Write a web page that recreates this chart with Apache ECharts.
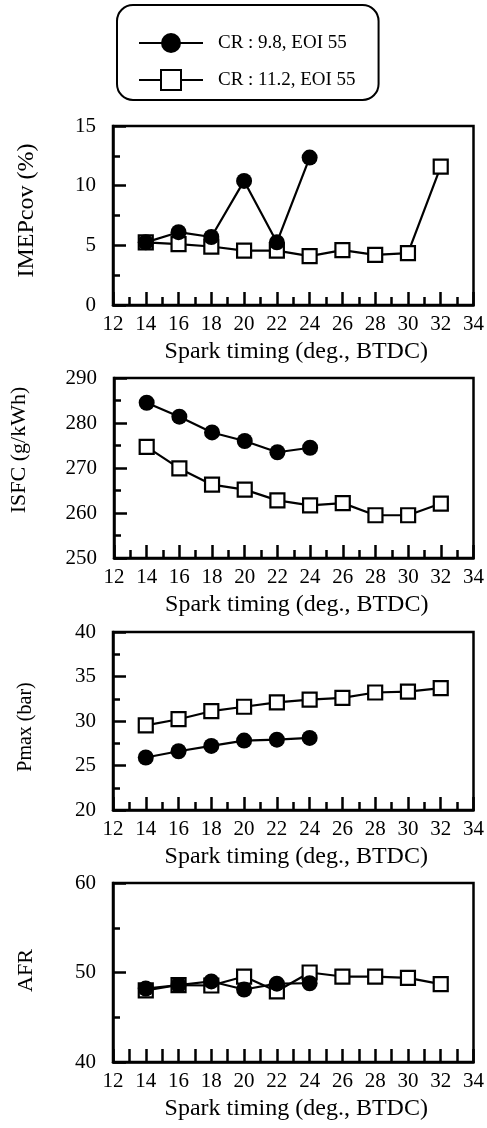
<!DOCTYPE html>
<html><head><meta charset="utf-8">
<script src="https://cdn.jsdelivr.net/npm/echarts@6/dist/echarts.min.js"></script>
<style>html,body{margin:0;padding:0;background:#fff}#c{width:487px;height:1128px}</style>
</head><body><div id="c"></div>
<script>
const seriesNames = ['CR : 9.8, EOI 55', 'CR : 11.2, EOI 55'];
const sparkTiming98 = [14, 16, 18, 20, 22, 24];
const sparkTiming112 = [14, 16, 18, 20, 22, 24, 26, 28, 30, 32];
const imepCov98 = [5.25, 6.1, 5.7, 10.4, 5.25, 12.35];
const imepCov112 = [5.25, 5.1, 4.9, 4.55, 4.55, 4.1, 4.6, 4.2, 4.35, 11.6];
const isfc98 = [284.5, 281.4, 277.9, 276.0, 273.5, 274.5];
const isfc112 = [274.7, 269.9, 266.3, 265.2, 262.8, 261.7, 262.2, 259.5, 259.5, 262.1];
const pmax98 = [25.9, 26.6, 27.2, 27.8, 27.9, 28.1];
const pmax112 = [29.5, 30.2, 31.1, 31.6, 32.1, 32.4, 32.6, 33.2, 33.3, 33.7];
const afr98 = [48.2, 48.6, 49.0, 48.1, 48.75, 48.8];
const afr112 = [48.0, 48.6, 48.55, 49.55, 47.9, 50.0, 49.55, 49.55, 49.4, 48.7];
const xAxisRange = [12, 34, 2];
const yTitles = ['IMEPcov (%)', 'ISFC (g/kWh)', 'Pmax (bar)', 'AFR'];
const yRanges = [[0, 15, 5], [250, 290, 10], [20, 40, 5], [40, 60, 10]];
const xTitle = 'Spark timing (deg., BTDC)';

const FONT = 'Liberation Serif';
const panels = [
  {top: 126, height: 179, yGap: 74, yFont: 24, yPad: [0, 0, 0, 10], minorX: 8, d98: imepCov98, d112: imepCov112},
  {top: 378, height: 180, yGap: 84, yFont: 22, yPad: [0, 0, 0, 36], minorX: 8, d98: isfc98, d112: isfc112},
  {top: 632, height: 178, yGap: 77, yFont: 20, yPad: [0, 12, 0, 0], minorX: 8, d98: pmax98, d112: pmax112},
  {top: 883, height: 179, yGap: 76, yFont: 22, yPad: [0, 0, 0, 4], minorX: 13, d98: afr98, d112: afr112}
];

const grid = [], xAxis = [], yAxis = [], series = [];
panels.forEach((p, i) => {
  grid.push({left: 113, width: 365, top: p.top, height: p.height, show: true,
    borderColor: '#000', borderWidth: 2.5, backgroundColor: 'transparent'});
  xAxis.push({
    type: 'value', gridIndex: i, min: xAxisRange[0], max: xAxisRange[1], interval: xAxisRange[2],
    axisLine: {lineStyle: {color: '#000', width: 2.5}},
    axisTick: {inside: true, length: 13, lineStyle: {color: '#000', width: 2.5}},
    minorTick: {show: true, splitNumber: 2, length: p.minorX, lineStyle: {color: '#000', width: 2.5}},
    splitLine: {show: false}, minorSplitLine: {show: false},
    axisLabel: {color: '#000', fontSize: 21, fontFamily: FONT, margin: 9, showMinLabel: true, showMaxLabel: true},
    name: xTitle, nameLocation: 'middle', nameGap: 35,
    nameTextStyle: {color: '#000', fontSize: 24, fontFamily: FONT, padding: [0, 0, 0, 6]}
  });
  const r = yRanges[i];
  yAxis.push({
    type: 'value', gridIndex: i, min: r[0], max: r[1], interval: r[2],
    axisLine: {lineStyle: {color: '#000', width: 2.5}},
    axisTick: {inside: true, length: 13, lineStyle: {color: '#000', width: 2.5}},
    minorTick: {show: true, splitNumber: 2, length: 7, lineStyle: {color: '#000', width: 2.5}},
    splitLine: {show: false}, minorSplitLine: {show: false},
    axisLabel: {color: '#000', fontSize: 21, fontFamily: FONT, margin: 17},
    name: yTitles[i], nameLocation: 'middle', nameGap: p.yGap, nameRotate: 90,
    nameTextStyle: {color: '#000', fontSize: p.yFont, fontFamily: FONT, padding: p.yPad}
  });
  series.push({
    name: seriesNames[1], type: 'line', xAxisIndex: i, yAxisIndex: i, z: 2,
    data: sparkTiming112.map((x, k) => [x, p.d112[k]]),
    symbol: 'rect', symbolSize: 14,
    itemStyle: {color: '#fff', borderColor: '#000', borderWidth: 2.2},
    lineStyle: {color: '#000', width: 2.2}
  });
  series.push({
    name: seriesNames[0], type: 'line', xAxisIndex: i, yAxisIndex: i, z: 3,
    data: sparkTiming98.map((x, k) => [x, p.d98[k]]),
    symbol: 'circle', symbolSize: 16,
    itemStyle: {color: '#000', borderColor: '#000', borderWidth: 0},
    lineStyle: {color: '#000', width: 2.2}
  });
});

const chart = echarts.init(document.getElementById('c'), null, {renderer: 'canvas'});
chart.setOption({
  animation: false,
  backgroundColor: '#fff',
  legend: {
    data: seriesNames, orient: 'vertical', left: 117, top: 5,
    itemWidth: 64, itemHeight: 25, itemGap: 16,
    padding: [28, 23, 9, 21],
    borderColor: '#000', borderWidth: 2, borderRadius: 16,
    textStyle: {color: '#000', fontSize: 19, fontFamily: FONT, padding: [0, 0, 0, 10]}
  },
  grid, xAxis, yAxis, series
});
</script></body></html>
